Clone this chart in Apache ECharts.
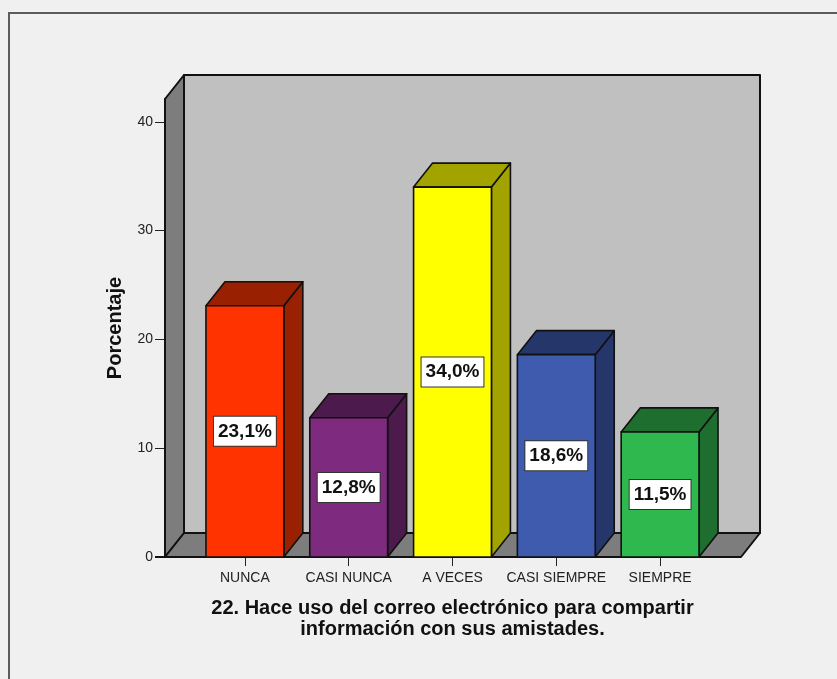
<!DOCTYPE html>
<html>
<head>
<meta charset="utf-8">
<style>html,body{margin:0;padding:0;background:#f0f0f0}#chart{width:837px;height:679px}</style>
<script src="https://cdn.jsdelivr.net/npm/echarts@6/dist/echarts.min.js"></script>
</head>
<body>
<div id="chart"></div>
<script>
// Survey item 22: share of answers per frequency category
const categories = ['NUNCA', 'CASI NUNCA', 'A VECES', 'CASI SIEMPRE', 'SIEMPRE'];
const percentages = [23.1, 12.8, 34.0, 18.6, 11.5];
const frontColors = ['#ff3300', '#7e2a7e', '#ffff00', '#3e5bae', '#2fb84d'];
const sideColors = ['#992000', '#4c1a4c', '#a3a300', '#25366a', '#1d6e2f'];
const yTicks = [0, 10, 20, 30, 40];
const axisTitleY = 'Porcentaje';
const axisTitleX = '22. Hace uso del correo electrónico para compartir\ninformación con sus amistades.';

// Oblique projection of the 3D box, in pixels
const DEPTH_X = 19;
const DEPTH_Y = -24;
const OUTLINE = '#111111';
const FONT = '"Liberation Sans", Arial, sans-serif';

function polygon(points, fill, width) {
  return {
    type: 'polygon',
    shape: { points: points },
    style: { fill: fill, stroke: OUTLINE, lineWidth: width || 1.6, lineJoin: 'round' }
  };
}

// Back wall, left wall and floor of the box
function renderWalls(params, api) {
  const c = params.coordSys;
  const left = c.x - 28, right = c.x + c.width + 29;
  const top = c.y, bottom = c.y + c.height;
  return {
    type: 'group',
    children: [
      polygon([[left + DEPTH_X, top + DEPTH_Y], [right + DEPTH_X, top + DEPTH_Y],
               [right + DEPTH_X, bottom + DEPTH_Y], [left + DEPTH_X, bottom + DEPTH_Y]], '#c0c0c0', 2),
      polygon([[left, top], [left + DEPTH_X, top + DEPTH_Y],
               [left + DEPTH_X, bottom + DEPTH_Y], [left, bottom]], '#7d7d7d', 2),
      polygon([[left, bottom], [left + DEPTH_X, bottom + DEPTH_Y],
               [right + DEPTH_X, bottom + DEPTH_Y], [right, bottom]], '#7d7d7d', 2)
    ]
  };
}

// One extruded bar with its value badge centred on the front face
function renderBar(params, api) {
  const idx = params.dataIndex;
  const value = api.value(1);
  const base = api.coord([api.value(0), 0]);
  const head = api.coord([api.value(0), value]);
  const w = api.size([1, 0])[0] * 0.75;
  const x0 = base[0] - w / 2, x1 = base[0] + w / 2;
  const y0 = base[1], y1 = head[1];
  const side = sideColors[idx];
  return {
    type: 'group',
    children: [
      polygon([[x1, y1], [x1 + DEPTH_X, y1 + DEPTH_Y], [x1 + DEPTH_X, y0 + DEPTH_Y], [x1, y0]], side),
      polygon([[x0, y1], [x0 + DEPTH_X, y1 + DEPTH_Y], [x1 + DEPTH_X, y1 + DEPTH_Y], [x1, y1]], side),
      polygon([[x0, y1], [x1, y1], [x1, y0], [x0, y0]], frontColors[idx]),
      {
        type: 'text',
        z2: 10,
        style: {
          x: base[0],
          y: (y0 + y1) / 2,
          text: value.toFixed(1).replace('.', ',') + '%',
          align: 'center',
          verticalAlign: 'middle',
          font: 'bold 19px ' + FONT,
          fill: '#111111',
          backgroundColor: '#ffffff',
          borderColor: '#333333',
          borderWidth: 1,
          padding: [6, 4, 4, 4]
        }
      }
    ]
  };
}

const chart = echarts.init(document.getElementById('chart'), null, { renderer: 'canvas' });
chart.setOption({
  animation: false,
  backgroundColor: '#f0f0f0',
  graphic: [{
    type: 'polyline',
    silent: true,
    shape: { points: [[9, 679], [9, 13], [837, 13]] },
    style: { fill: null, stroke: '#5c5c5c', lineWidth: 2 }
  }],
  grid: { left: 193, right: 125, top: 99, bottom: 122 },
  xAxis: {
    type: 'category',
    data: categories,
    boundaryGap: true,
    axisLine: { show: false },
    axisTick: { show: true, alignWithLabel: true, length: 9, lineStyle: { color: '#222222', width: 1 } },
    axisLabel: { margin: 14, fontFamily: FONT, fontSize: 14, color: '#222222', interval: 0 },
    name: axisTitleX,
    nameLocation: 'middle',
    nameGap: 41,
    nameTextStyle: { fontFamily: FONT, fontWeight: 'bold', fontSize: 20, lineHeight: 21, color: '#111111', verticalAlign: 'top' }
  },
  yAxis: {
    type: 'value',
    min: 0,
    max: 42.1,
    offset: 28,
    splitLine: { show: false },
    axisLine: { show: true, lineStyle: { color: OUTLINE, width: 2 } },
    axisTick: { show: true, length: 10, customValues: yTicks, lineStyle: { color: '#222222', width: 1 } },
    axisLabel: { margin: 12, fontFamily: FONT, fontSize: 14, color: '#222222', customValues: yTicks },
    name: axisTitleY,
    nameLocation: 'middle',
    nameRotate: 90,
    nameGap: 40,
    nameTextStyle: { fontFamily: FONT, fontWeight: 'bold', fontSize: 20, color: '#111111' }
  },
  series: [
    {
      type: 'custom',
      name: 'walls',
      z: 1,
      silent: true,
      renderItem: renderWalls,
      data: [[0, 0]],
      encode: { x: 0, y: 1 }
    },
    {
      type: 'custom',
      name: 'Porcentaje',
      z: 3,
      renderItem: renderBar,
      data: percentages.map((v, i) => [i, v]),
      encode: { x: 0, y: 1 }
    },
    {
      // Front floor edge spanning the full box width
      type: 'custom',
      name: 'edge',
      z: 2,
      silent: true,
      renderItem: function (params) {
        const c = params.coordSys;
        return {
          type: 'line',
          shape: { x1: c.x - 38, y1: c.y + c.height, x2: c.x + c.width + 29, y2: c.y + c.height },
          style: { stroke: OUTLINE, lineWidth: 2 }
        };
      },
      data: [[0, 0]],
      encode: { x: 0, y: 1 }
    }
  ]
});
</script>
</body>
</html>
